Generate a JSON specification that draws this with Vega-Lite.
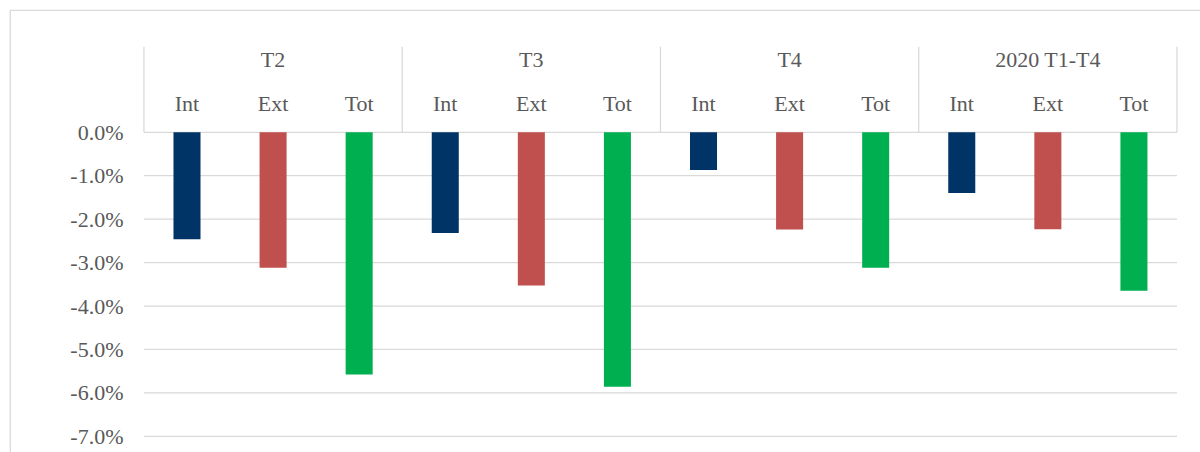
{
  "$schema": "https://vega.github.io/schema/vega-lite/v6.json",
  "width": 1195,
  "height": 450,
  "autosize": {"type": "none"},
  "padding": {"left": 10, "top": 10, "right": 0, "bottom": 0},
  "background": "white",
  "config": {
    "view": {"stroke": "#d9d9d9", "strokeWidth": 1.25},
    "font": "Liberation Serif",
    "axis": {"labelFont": "Liberation Serif", "labelFontSize": 22, "labelColor": "#595959"},
    "style": {"guide-label": {"font": "Liberation Serif", "fontSize": 22, "fill": "#595959"}}
  },
  "datasets": {
    "bars": [
      {"group": "T2", "sub": "Int", "value": -2.46},
      {"group": "T2", "sub": "Ext", "value": -3.12},
      {"group": "T2", "sub": "Tot", "value": -5.58},
      {"group": "T3", "sub": "Int", "value": -2.32},
      {"group": "T3", "sub": "Ext", "value": -3.53},
      {"group": "T3", "sub": "Tot", "value": -5.86},
      {"group": "T4", "sub": "Int", "value": -0.87},
      {"group": "T4", "sub": "Ext", "value": -2.24},
      {"group": "T4", "sub": "Tot", "value": -3.12},
      {"group": "2020 T1-T4", "sub": "Int", "value": -1.40},
      {"group": "2020 T1-T4", "sub": "Ext", "value": -2.23},
      {"group": "2020 T1-T4", "sub": "Tot", "value": -3.65}
    ],
    "groups": [
      {"group": "T2"}, {"group": "T3"}, {"group": "T4"}, {"group": "2020 T1-T4"}
    ],
    "grid": [
      {"v": 0}, {"v": -1}, {"v": -2}, {"v": -3}, {"v": -4}, {"v": -5}, {"v": -6}, {"v": -7}
    ]
  },
  "layer": [
    {
      "data": {"name": "grid"},
      "mark": {"type": "rule", "color": "#d9d9d9", "strokeWidth": 1.25},
      "encoding": {
        "x": {"datum": "T2", "type": "nominal", "bandPosition": 0, "axis": null,
              "scale": {"type": "band", "domain": ["T2", "T3", "T4", "2020 T1-T4"], "paddingInner": 0, "paddingOuter": 0.3136, "align": 0.827}},
        "x2": {"datum": "2020 T1-T4", "bandPosition": 1},
        "y": {"field": "v", "type": "quantitative",
              "scale": {"domain": [-7.546, 2.816], "nice": false, "zero": false},
              "axis": {"orient": "left", "offset": -134, "values": [0, -1, -2, -3, -4, -5, -6, -7], "grid": false, "domain": false, "ticks": false, "tickSize": 0, "labelPadding": 21, "title": null, "labelFont": "Liberation Serif", "labelFontSize": 22, "labelColor": "#595959", "labelExpr": "(datum.value < 0 ? '-' : '') + format(abs(datum.value), '.1f') + '%'",
                       "encode": {"labels": {"update": {"font": {"value": "Liberation Serif"}}}}}}
      }
    },
    {
      "data": {"name": "groups"},
      "mark": {"type": "rule", "color": "#d9d9d9", "strokeWidth": 1.25},
      "encoding": {
        "x": {"field": "group", "type": "nominal", "bandPosition": 0, "axis": null},
        "y": {"datum": 0, "type": "quantitative"},
        "y2": {"datum": 1.971}
      }
    },
    {
      "data": {"values": [{"edge": "end"}]},
      "mark": {"type": "rule", "color": "#d9d9d9", "strokeWidth": 1.25},
      "encoding": {
        "x": {"datum": "2020 T1-T4", "type": "nominal", "bandPosition": 1, "axis": null},
        "y": {"datum": 0, "type": "quantitative"},
        "y2": {"datum": 1.971}
      }
    },
    {
      "data": {"name": "bars"},
      "mark": {"type": "bar"},
      "encoding": {
        "x": {"field": "group", "type": "nominal", "axis": null},
        "xOffset": {"field": "sub", "type": "nominal",
                    "scale": {"domain": ["Int", "Ext", "Tot"], "paddingInner": 0.686, "paddingOuter": 0.343}},
        "y": {"field": "value", "type": "quantitative"},
        "y2": {"datum": 0},
        "color": {"field": "sub", "type": "nominal", "legend": null,
                  "scale": {"domain": ["Int", "Ext", "Tot"], "range": ["#003366", "#C0504D", "#00B050"]}}
      }
    },
    {
      "data": {"name": "groups"},
      "mark": {"type": "text", "font": "Liberation Serif", "fontSize": 22, "color": "#595959", "baseline": "middle", "align": "center"},
      "encoding": {
        "x": {"field": "group", "type": "nominal", "axis": null},
        "y": {"datum": 1.66, "type": "quantitative"},
        "text": {"field": "group"}
      }
    },
    {
      "data": {"name": "bars"},
      "mark": {"type": "text", "font": "Liberation Serif", "fontSize": 22, "color": "#595959", "baseline": "middle", "align": "center"},
      "encoding": {
        "x": {"field": "group", "type": "nominal", "axis": null},
        "xOffset": {"field": "sub", "type": "nominal"},
        "y": {"datum": 0.645, "type": "quantitative"},
        "text": {"field": "sub"}
      }
    }
  ]
}
